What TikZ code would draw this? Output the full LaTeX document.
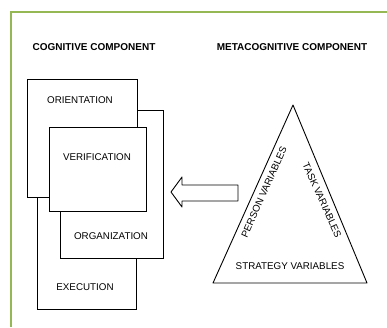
\documentclass[tikz,border=0pt]{standalone}
\usepackage{fontspec}
\setmainfont{Liberation Sans}
\usetikzlibrary{calc}
\definecolor{framegreen}{RGB}{150,184,84}

\begin{document}
\begin{tikzpicture}
	[x=1pt,y=-1pt,
	 box/.style={draw=black, fill=white, line width=0.9pt},
	 lbl/.style={font=\fontsize{9.8}{11}\selectfont, inner sep=0pt},
	 title/.style={font=\fontsize{10}{12}\selectfont\bfseries, inner sep=0pt}]

	\useasboundingbox (0,0) rectangle (387,327);

	%Frame
	\draw[framegreen, line width=1.8pt] (11,327) -- (11,12) -- (387,12);

	%Titles
	\node[title] (cog) at (94,47) {COGNITIVE COMPONENT};
	\node[title] (meta) at (292,47) {METACOGNITIVE COMPONENT};

	%Boxes
	\draw[box] (37,150) rectangle (136,309);
	\draw[box] (60,110) rectangle (163,258);
	\draw[box] (27,79) rectangle (137,197);
	\draw[box] (49,127) rectangle (146,211);

	\node[lbl] (orient) at (80,100) {ORIENTATION};
	\node[lbl] (verif) at (97,157) {VERIFICATION};
	\node[lbl] (organ) at (111,236) {ORGANIZATION};
	\node[lbl] (exec) at (85,287) {EXECUTION};

	%Arrow
	\coordinate (tip) at (171,192);
	\draw[line width=0.9pt, line join=round] (tip) -- (182,177) -- (182,185) -- (238,185) -- (238,201) -- (182,201) -- (182,207) -- cycle;

	%Triangle
	\coordinate (top) at (293,105);
	\coordinate (bl) at (213,283);
	\coordinate (br) at (367,283);
	\draw[line width=0.9pt, line join=round] (top) -- (bl) -- (br) -- cycle;

	\node[lbl, rotate=65.8] (person) at (264,192) {PERSON VARIABLES};
	\node[lbl, rotate=-65.8] (task) at (322,200) {TASK VARIABLES};
	\node[lbl] (strat) at (290,266) {STRATEGY VARIABLES};
\end{tikzpicture}
\end{document}
